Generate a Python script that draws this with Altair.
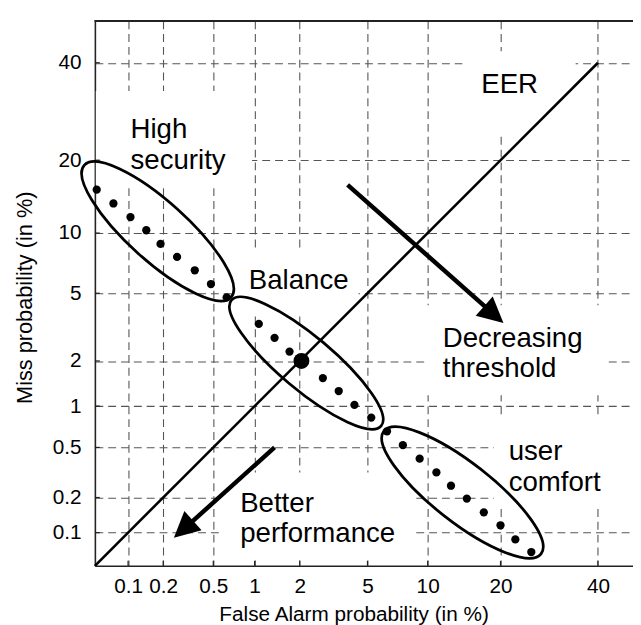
import altair as alt
import pandas as pd
from statistics import NormalDist

_ND = NormalDist()


def pr(pct):
    """percent -> normal deviate (DET / probit axis)"""
    return _ND.inv_cdf(pct / 100.0)


# ---------------- data (all values in %) ----------------
tick_pct = [0.1, 0.2, 0.5, 1, 2, 5, 10, 20, 40]

# operating points of the DET curve
fa_pct = [0.052, 0.074, 0.105, 0.144, 0.19, 0.26, 0.36, 0.48, 0.63,
          1.07, 1.37, 1.72,
          2.78, 3.45, 4.24, 5.24, 6.34,
          7.62, 9.18, 10.96, 12.7, 14.8, 17.3, 20.0, 22.6, 25.6]
miss_pct = [15.4, 13.5, 11.8, 10.3, 8.9, 7.7, 6.6, 5.6, 4.75,
            3.36, 2.78, 2.29,
            1.55, 1.27, 1.02, 0.83, 0.66,
            0.52, 0.41, 0.32, 0.25, 0.196, 0.15, 0.116, 0.087, 0.067]

# equal error rate point and EER diagonal
eer_fa = [2.05]
eer_miss = [2.0]
diag_fa = [0.05, 40]
diag_miss = [0.05, 40]

# operating regions (ellipse centres)
region_names = ["High security", "Balance", "user comfort"]
region_fa = [0.18, 2.2, 14.2]
region_miss = [10.2, 1.94, 0.22]

# arrows
arrow_names = ["Decreasing threshold", "Better performance"]
arrow_start_fa = [3.88, 1.37]
arrow_start_miss = [16.1, 0.50]
arrow_end_fa = [18.3, 0.313]
arrow_end_miss = [3.98, 0.114]
arrow_tip_fa = [20.5, 0.245]
arrow_tip_miss = [3.40, 0.090]

# annotation texts
label_lines = [["High", "security"], ["EER"], ["Balance"],
               ["Decreasing", "threshold"], ["user", "comfort"],
               ["Better", "performance"]]
label_fa = [0.105, 16.9, 0.91, 11.7, 21.4, 0.79]
label_miss = [23.9, 33.2, 5.25, 2.46, 0.40, 0.152]

# white backgrounds behind the annotation texts
box_fa1 = [0.051, 14.2, 0.71, 9.9, 18.9, 0.56]
box_fa2 = [0.96, 34.9, 4.47, 41.5, 48.0, 8.5]
box_miss1 = [33.6, 42.7, 8.24, 4.3, 0.81, 0.32]
box_miss2 = [16.1, 24.5, 3.73, 1.19, 0.165, 0.058]

# ---------------- styles ----------------
W, H = 545, 552
FONT = "Liberation Sans"
ell_semi_major = [100, 99, 101]   # px
ell_semi_minor = [30, 27, 30]     # px
ell_angle = [42, 40, 38]          # deg, clockwise
arrow_rot = [131.5, 228.0]        # deg, clockwise
HEAD = 26                          # arrow head length in px


def ellipse_path(r):
    k = 0.5523
    return (f"M -1 0 C -1 {-k*r:.4f} {-k:.4f} {-r:.4f} 0 {-r:.4f} "
            f"C {k:.4f} {-r:.4f} 1 {-k*r:.4f} 1 0 "
            f"C 1 {k*r:.4f} {k:.4f} {r:.4f} 0 {r:.4f} "
            f"C {-k:.4f} {r:.4f} -1 {k*r:.4f} -1 0 Z")


y_lo, y_hi = pr(0.05), pr(50)
x_lo = pr(0.05)
x_hi = x_lo + W * (y_hi - y_lo) / H

xs = alt.Scale(domain=[x_lo, x_hi], nice=False, zero=False)
ys = alt.Scale(domain=[y_lo, y_hi], nice=False, zero=False)

label_expr = "'' + round(cumulativeNormal(datum.value) * 1000) / 10"

x_axis = alt.Axis(values=[pr(p) for p in tick_pct], labelExpr=label_expr,
                  title="False Alarm probability (in %)", ticks=False,
                  labelPadding=10, labelOverlap=False, labelFlush=False,
                  titleX=262, titleY=55, titleAlign="center",
                  titleBaseline="alphabetic", titleFontSize=21)
y_axis = alt.Axis(values=[pr(p) for p in tick_pct], labelExpr=label_expr,
                  title="Miss probability (in %)", ticks=False,
                  labelPadding=14, labelOverlap=False, labelFlush=False,
                  titleX=-64, titleY=280, titleAlign="center",
                  titleBaseline="alphabetic", titleAngle=270, titleFontSize=22)

# ---------------- tables ----------------
pts = pd.DataFrame({"x": [pr(v) for v in fa_pct], "y": [pr(v) for v in miss_pct]})
eer = pd.DataFrame({"x": [pr(v) for v in eer_fa], "y": [pr(v) for v in eer_miss]})
diag = pd.DataFrame({"x": [pr(diag_fa[0])], "x2": [pr(diag_fa[1])],
                     "y": [pr(diag_miss[0])], "y2": [pr(diag_miss[1])]})
ells = pd.DataFrame({
    "name": region_names,
    "x": [pr(v) for v in region_fa], "y": [pr(v) for v in region_miss],
    "shape": [ellipse_path(b / a) for a, b in zip(ell_semi_major, ell_semi_minor)],
    "size": [4 * a * a for a in ell_semi_major],
    "angle": ell_angle,
})
arrows = pd.DataFrame({
    "name": arrow_names,
    "x": [pr(v) for v in arrow_start_fa], "y": [pr(v) for v in arrow_start_miss],
    "x2": [pr(v) for v in arrow_end_fa], "y2": [pr(v) for v in arrow_end_miss],
    "tx": [pr(v) for v in arrow_tip_fa], "ty": [pr(v) for v in arrow_tip_miss],
    "rot": arrow_rot,
})
labels = pd.DataFrame({"text": label_lines,
                       "x": [pr(v) for v in label_fa], "y": [pr(v) for v in label_miss]})
boxes = pd.DataFrame({"x": [pr(v) for v in box_fa1], "x2": [pr(v) for v in box_fa2],
                      "y": [pr(v) for v in box_miss1], "y2": [pr(v) for v in box_miss2]})
ticks = pd.DataFrame({"v": [pr(p) for p in tick_pct]})


def X(f):
    return alt.X(f, type="quantitative", scale=xs, axis=x_axis)


def Y(f):
    return alt.Y(f, type="quantitative", scale=ys, axis=y_axis)


# base layer carrying the axes and grid (invisible points)
base = alt.Chart(pts).mark_point(opacity=0).encode(x=X("x"), y=Y("y"))

bg = alt.Chart(boxes).mark_rect(color="white").encode(
    x=X("x"), x2="x2", y=Y("y"), y2="y2")

xticks = alt.Chart(ticks).mark_rule(color="#222", strokeWidth=1.2).encode(
    x=X("v"), y=alt.value(H - 5), y2=alt.value(H))
yticks = alt.Chart(ticks).mark_rule(color="#222", strokeWidth=1.2).encode(
    y=Y("v"), x=alt.value(0), x2=alt.value(5))
top = alt.Chart(ticks).mark_rule(color="#222", strokeWidth=1.6).encode(
    x=alt.value(0), x2=alt.value(W), y=alt.value(0))

diag_line = alt.Chart(diag).mark_rule(color="black", strokeWidth=2.6).encode(
    x=X("x"), x2="x2", y=Y("y"), y2="y2")

ellipses = alt.Chart(ells).mark_point(filled=False, color="black", strokeWidth=2.8,
                                       opacity=1).encode(
    x=X("x"), y=Y("y"),
    shape=alt.Shape("shape:N", scale=None),
    size=alt.Size("size:Q", scale=None),
    angle=alt.Angle("angle:Q", scale=None))

dots = alt.Chart(pts).mark_circle(color="black", opacity=1, size=70).encode(
    x=X("x"), y=Y("y"))
eer_dot = alt.Chart(eer).mark_circle(color="black", opacity=1, size=260).encode(
    x=X("x"), y=Y("y"))

shafts = alt.Chart(arrows).mark_rule(color="black", strokeWidth=4.5, strokeCap="butt").encode(
    x=X("x"), x2="x2", y=Y("y"), y2="y2")
heads = alt.Chart(arrows).mark_point(shape="M 0 0 L 0.5 1 L -0.5 1 Z", filled=True,
                                     color="black", opacity=1,
                                     size=(2 * HEAD) ** 2).encode(
    x=X("tx"), y=Y("ty"), angle=alt.Angle("rot:Q", scale=None))

texts = alt.Chart(labels).mark_text(align="left", baseline="alphabetic", fontSize=28,
                                    lineHeight=31, font=FONT, color="black").encode(
    x=X("x"), y=Y("y"), text="text")

chart = alt.layer(base, bg, xticks, yticks, top, diag_line, ellipses, dots, eer_dot,
                  shafts, heads, texts).properties(
    width=W, height=H,
    autosize=alt.AutoSizeParams(type="none"),
    padding={"left": 88, "top": 9, "right": 0, "bottom": 56},
).configure_view(stroke=None).configure_axis(
    grid=True, gridDash=[8, 5], gridColor="#555555", gridWidth=1.1,
    domainColor="#222", domainWidth=1.6,
    labelFont=FONT, labelFontSize=21, labelColor="black",
    titleFont=FONT, titleColor="black", titleFontWeight="normal",
)

chart.save("out.html", embed_options={"renderer": "svg", "actions": False})
